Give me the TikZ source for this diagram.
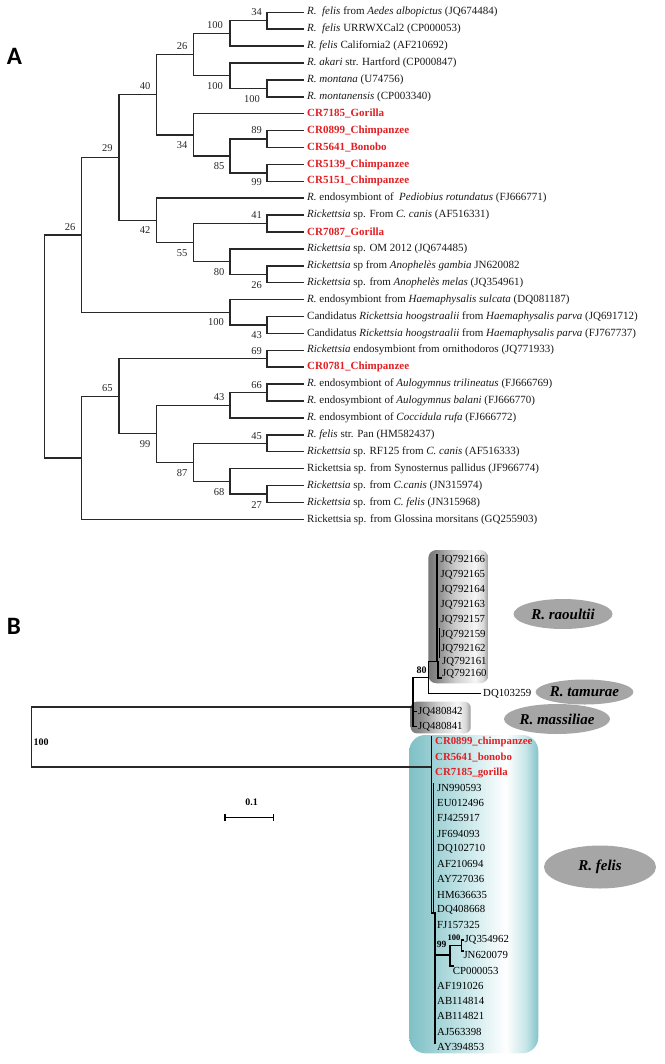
\documentclass[tikz,border=0pt]{standalone}
\usepackage{fontspec}
\setmainfont{Liberation Serif}
\newfontfamily\panelfont{Carlito}
\usetikzlibrary{shapes.geometric}
\definecolor{crred}{RGB}{224,32,36}
\definecolor{treec}{RGB}{40,40,40}
\definecolor{gL}{RGB}{120,120,120}
\definecolor{gL2}{RGB}{138,138,138}
\definecolor{gM}{RGB}{205,205,205}
\definecolor{gW}{RGB}{246,246,246}
\definecolor{gW2}{RGB}{215,215,215}
\definecolor{gR}{RGB}{150,150,150}
\definecolor{cL}{RGB}{128,193,198}
\definecolor{cL2}{RGB}{142,200,205}
\definecolor{cM}{RGB}{202,232,234}
\definecolor{cW}{RGB}{255,255,255}
\definecolor{cW2}{RGB}{200,230,232}
\definecolor{cR}{RGB}{132,195,200}
\definecolor{ellg}{RGB}{166,166,166}
\pgfdeclarehorizontalshading{grayshade}{100bp}{color(0bp)=(gL); color(25bp)=(gL); color(32.5bp)=(gL2); color(47.5bp)=(gM); color(64bp)=(gW); color(71bp)=(gW2); color(75bp)=(gR); color(100bp)=(gR)}
\pgfdeclarehorizontalshading{cyanshade}{100bp}{color(0bp)=(cL); color(25bp)=(cL); color(30bp)=(cL2); color(47.5bp)=(cM); color(62.5bp)=(cW); color(70bp)=(cW2); color(75bp)=(cR); color(100bp)=(cR)}
\newcommand\leafedge[2]{\draw[tree] (#1) |- ([xshift=-3.5pt]#2.west);}
\newcommand\inedge[2]{\draw[tree] (#1) |- (#2);}
\begin{document}
\begin{tikzpicture}[x=1pt,y=-1pt,
  tree/.style={draw=treec, line width=1.45pt, line cap=rect},
  treeb/.style={draw=black, line width=1.3pt, line cap=rect},
  leaf/.style={anchor=west, inner sep=0pt, text=black!90, font=\fontsize{11}{13}\selectfont},
  crleaf/.style={leaf, text=crred, font=\bfseries\fontsize{11}{13}\selectfont},
  bleaf/.style={anchor=west, inner sep=0pt, text=black, font=\fontsize{10.8}{13}\selectfont},
  bcr/.style={bleaf, text=crred, font=\bfseries\fontsize{10.8}{13}\selectfont},
  bsA/.style={inner sep=0pt, text=black!85, font=\fontsize{10.5}{12}\selectfont},
  bsB/.style={inner sep=0pt, text=black, font=\bfseries\fontsize{10}{12}\selectfont},
  panel/.style={inner sep=0pt, font=\panelfont\bfseries\fontsize{25}{28}\selectfont},
  spec/.style={ellipse, fill=ellg, inner sep=0pt, font=\bfseries\itshape\fontsize{15}{17}\selectfont}]
\useasboundingbox (0,0) rectangle (664,1064);

% ---------------- Panel A ----------------
\node[panel] (pA) at (14.5,56.5) {A};

\node[leaf] (lA1) at (307,12.3) {\textit{R.}\ \ \textit{felis} from \textit{Aedes albopictus} (JQ674484)};
\node[leaf] (lA2) at (307,29.2) {\textit{R.}\ \ \textit{felis} URRWXCal2 (CP000053)};
\node[leaf] (lA3) at (307,46.1) {\textit{R. felis} California2 (AF210692)};
\node[leaf] (lA4) at (307,63.0) {\textit{R. akari} str. Hartford (CP000847)};
\node[leaf] (lA5) at (307,79.9) {\textit{R. montana} (U74756)};
\node[leaf] (lA6) at (307,96.8) {\textit{R. montanensis} (CP003340)};
\node[crleaf] (lA7) at (307,113.7) {CR7185\_Gorilla};
\node[crleaf] (lA8) at (307,130.6) {CR0899\_Chimpanzee};
\node[crleaf] (lA9) at (307,147.5) {CR5641\_Bonobo};
\node[crleaf] (lA10) at (307,164.4) {CR5139\_Chimpanzee};
\node[crleaf] (lA11) at (307,181.3) {CR5151\_Chimpanzee};
\node[leaf] (lA12) at (307,198.2) {\textit{R.} endosymbiont of \ \textit{Pediobius rotundatus} (FJ666771)};
\node[leaf] (lA13) at (307,215.1) {\textit{Rickettsia} sp. From \textit{C. canis} (AF516331)};
\node[crleaf] (lA14) at (307,232.0) {CR7087\_Gorilla};
\node[leaf] (lA15) at (307,248.9) {\textit{Rickettsia} sp. OM 2012 (JQ674485)};
\node[leaf] (lA16) at (307,265.8) {\textit{Rickettsia} sp from \textit{Anophelès gambia} JN620082};
\node[leaf] (lA17) at (307,282.7) {\textit{Rickettsia} sp. from \textit{Anophelès melas} (JQ354961)};
\node[leaf] (lA18) at (307,299.6) {\textit{R.} endosymbiont from \textit{Haemaphysalis sulcata} (DQ081187)};
\node[leaf] (lA19) at (307,316.5) {Candidatus \textit{Rickettsia hoogstraalii} from \textit{Haemaphysalis parva} (JQ691712)};
\node[leaf] (lA20) at (307,333.4) {Candidatus \textit{Rickettsia hoogstraalii} from \textit{Haemaphysalis parva} (FJ767737)};
\node[leaf] (lA21) at (307,350.3) {\textit{Rickettsia} endosymbiont from ornithodoros (JQ771933)};
\node[crleaf] (lA22) at (307,367.2) {CR0781\_Chimpanzee};
\node[leaf] (lA23) at (307,384.1) {\textit{R.} endosymbiont of \textit{Aulogymnus trilineatus} (FJ666769)};
\node[leaf] (lA24) at (307,401.0) {\textit{R.} endosymbiont of \textit{Aulogymnus balani} (FJ666770)};
\node[leaf] (lA25) at (307,417.9) {\textit{R.} endosymbiont of \textit{Coccidula rufa} (FJ666772)};
\node[leaf] (lA26) at (307,434.8) {\textit{R. felis} str. Pan (HM582437)};
\node[leaf] (lA27) at (307,451.7) {\textit{Rickettsia} sp. RF125 from \textit{C. canis} (AF516333)};
\node[leaf] (lA28) at (307,468.6) {Rickettsia sp. from Synosternus pallidus (JF966774)};
\node[leaf] (lA29) at (307,485.5) {\textit{Rickettsia} sp. from \textit{C.canis} (JN315974)};
\node[leaf] (lA30) at (307,502.4) {\textit{Rickettsia} sp. from \textit{C. felis} (JN315968)};
\node[leaf] (lA31) at (307,519.3) {Rickettsia sp. from Glossina morsitans (GQ255903)};

% internal nodes
\coordinate (na) at (267,20.75);
\coordinate (nb) at (230,33.43);
\coordinate (nc) at (267,88.35);
\coordinate (nd) at (230,75.68);
\coordinate (ne) at (193.3,54.55);
\coordinate (nf) at (267,139.05);
\coordinate (ng) at (267,172.85);
\coordinate (nh) at (230,155.95);
\coordinate (ni) at (193.3,134.83);
\coordinate (nj) at (156.3,94.69);
\coordinate (nm) at (267,223.55);
\coordinate (nk) at (267,274.25);
\coordinate (nl) at (230,261.58);
\coordinate (nn) at (193.3,242.56);
\coordinate (no) at (156.3,220.38);
\coordinate (np) at (119,157.54);
\coordinate (nq) at (267,324.95);
\coordinate (nr) at (230,312.28);
\coordinate (ns) at (81.7,234.91);
\coordinate (nt) at (267,358.75);
\coordinate (nu) at (267,392.55);
\coordinate (nv) at (230,405.23);
\coordinate (nw) at (267,443.25);
\coordinate (nx) at (267,493.95);
\coordinate (ny) at (230,481.28);
\coordinate (nz) at (193.3,462.26);
\coordinate (naa) at (156.3,433.75);
\coordinate (nbb) at (119,396.25);
\coordinate (ncc) at (81.7,457.78);
\coordinate (nroot) at (44.3,346.34);

\leafedge{na}{lA1} \leafedge{na}{lA2} \inedge{nb}{na} \leafedge{nb}{lA3}
\leafedge{nc}{lA5} \leafedge{nc}{lA6} \leafedge{nd}{lA4} \inedge{nd}{nc}
\inedge{ne}{nb} \inedge{ne}{nd}
\leafedge{nf}{lA8} \leafedge{nf}{lA9} \leafedge{ng}{lA10} \leafedge{ng}{lA11}
\inedge{nh}{nf} \inedge{nh}{ng} \leafedge{ni}{lA7} \inedge{ni}{nh}
\inedge{nj}{ne} \inedge{nj}{ni}
\leafedge{nm}{lA13} \leafedge{nm}{lA14} \leafedge{nk}{lA16} \leafedge{nk}{lA17}
\leafedge{nl}{lA15} \inedge{nl}{nk} \inedge{nn}{nm} \inedge{nn}{nl}
\leafedge{no}{lA12} \inedge{no}{nn}
\inedge{np}{nj} \inedge{np}{no}
\leafedge{nq}{lA19} \leafedge{nq}{lA20} \leafedge{nr}{lA18} \inedge{nr}{nq}
\inedge{ns}{np} \inedge{ns}{nr}
\leafedge{nt}{lA21} \leafedge{nt}{lA22}
\leafedge{nu}{lA23} \leafedge{nu}{lA24} \inedge{nv}{nu} \leafedge{nv}{lA25}
\leafedge{nw}{lA26} \leafedge{nw}{lA27}
\leafedge{nx}{lA29} \leafedge{nx}{lA30} \leafedge{ny}{lA28} \inedge{ny}{nx}
\inedge{nz}{nw} \inedge{nz}{ny}
\inedge{naa}{nv} \inedge{naa}{nz}
\inedge{nbb}{nt} \inedge{nbb}{naa}
\inedge{ncc}{nbb} \leafedge{ncc}{lA31}
\inedge{nroot}{ns} \inedge{nroot}{ncc}

% bootstrap values A
\node[bsA] (ba) at (256.7,11.7) {34};
\node[bsA] (bb) at (215,25) {100};
\node[bsA] (bc) at (252,99) {100};
\node[bsA] (bd) at (215,86) {100};
\node[bsA] (be) at (182,45.7) {26};
\node[bsA] (bj) at (145,86) {40};
\node[bsA] (bf) at (256.7,130) {89};
\node[bsA] (bh) at (219,165.7) {85};
\node[bsA] (bg) at (256.7,182.3) {99};
\node[bsA] (bi) at (182,145) {34};
\node[bsA] (bp) at (107.3,148.3) {29};
\node[bsA] (bm) at (256.7,215) {41};
\node[bsA] (bo) at (145,230) {42};
\node[bsA] (bn) at (182,253.3) {55};
\node[bsA] (bl) at (219,271.7) {80};
\node[bsA] (bk) at (256.7,285) {26};
\node[bsA] (bs) at (70,226.7) {26};
\node[bsA] (br) at (216,322.3) {100};
\node[bsA] (bq) at (256.7,335) {43};
\node[bsA] (bt) at (256.7,351) {69};
\node[bsA] (bbb) at (107.3,388.3) {65};
\node[bsA] (bu) at (256.7,385) {66};
\node[bsA] (bv) at (219,397.3) {43};
\node[bsA] (baa) at (145,444.5) {99};
\node[bsA] (bw) at (256.7,435.7) {45};
\node[bsA] (bz) at (182,473.3) {87};
\node[bsA] (by) at (219,492.3) {68};
\node[bsA] (bx) at (256.7,505) {27};

% ---------------- Panel B ----------------
\node[panel] (pB) at (14,626.5) {B};

% clade boxes
\shade[shading=grayshade, rounded corners=8pt] (428.3,550) rectangle (488.3,683.3);
\shade[shading=grayshade, rounded corners=6pt] (410.7,701.7) rectangle (470.7,733.3);
\shade[shading=cyanshade, rounded corners=16pt] (409.3,735) rectangle (538.3,1053.3);

% species ellipses
\node[spec, minimum width=99pt, minimum height=30pt] (eRa) at (563,614) {R. raoultii};
\node[spec, minimum width=92pt, minimum height=25pt] (eTa) at (584.5,692) {R. tamurae};
\node[spec, minimum width=99pt, minimum height=30pt] (eMa) at (557,719) {R. massiliae};
\node[spec, minimum width=112pt, minimum height=43pt] (eFe) at (600,867) {R. felis};

% tree B
\coordinate (rb) at (31.7,737);
\coordinate (P) at (413,707);
\coordinate (fe) at (431.5,767);
\coordinate (n80) at (428.3,677.5);
\coordinate (ra) at (437,661.7);
\coordinate (ratop) at (437,555);
\inedge{rb}{P}
\inedge{rb}{fe}

\node[bleaf] (q66) at (440.5,560) {JQ792166};
\node[bleaf] (q65) at (440.5,575) {JQ792165};
\node[bleaf] (q64) at (440.5,590) {JQ792164};
\node[bleaf] (q63) at (440.5,605) {JQ792163};
\node[bleaf] (q57) at (440.5,620) {JQ792157};
\node[bleaf] (q59) at (441,635) {JQ792159};
\node[bleaf] (q62) at (441,649) {JQ792162};
\node[bleaf] (q61) at (442,662) {JQ792161};
\node[bleaf] (q60) at (442,674) {JQ792160};
\node[bleaf] (dq) at (483,693.3) {DQ103259};
\node[bleaf] (j42) at (418,711.7) {JQ480842};
\node[bleaf] (j41) at (418,726.7) {JQ480841};

\draw[treeb] (P) |- (n80);
\draw[treeb] (P) |- ([xshift=-2pt]j42.west);
\draw[treeb] (P) |- ([xshift=-2pt]j41.west);
\draw[treeb] (n80) |- (ra);
\draw[treeb] (n80) |- ([xshift=-3pt]dq.west);
\draw[treeb] (ra) -- (ratop);
\coordinate (rs1) at (439.3,629);
\coordinate (rs2) at (439.3,657);
\draw[treeb] (rs1) -- (rs2);
\coordinate (rh1) at (438,662);
\coordinate (rh2) at (438,678);
\draw[treeb] (rh1) -- (rh2) -| ([xshift=-0.5pt]q60.south west);
\node[bsB] (b80) at (421.7,670) {80};

% felis clade
\node[bcr] (f0) at (435,742.3) {CR0899\_chimpanzee};
\node[bcr] (f1) at (435,757.5) {CR5641\_bonobo};
\node[bcr] (f2) at (435,772.7) {CR7185\_gorilla};
\node[bleaf] (f3) at (437,788.0) {JN990593};
\node[bleaf] (f4) at (437,803.2) {EU012496};
\node[bleaf] (f5) at (437,818.4) {FJ425917};
\node[bleaf] (f6) at (437,833.6) {JF694093};
\node[bleaf] (f7) at (437,848.8) {DQ102710};
\node[bleaf] (f8) at (437,864.1) {AF210694};
\node[bleaf] (f9) at (437,879.3) {AY727036};
\node[bleaf] (f10) at (437,894.5) {HM636635};
\node[bleaf] (f11) at (437,909.7) {DQ408668};
\node[bleaf] (f12) at (437,924.9) {FJ157325};
\node[bleaf] (f13) at (464.3,940.2) {JQ354962};
\node[bleaf] (f14) at (463.3,955.4) {JN620079};
\node[bleaf] (f15) at (452.7,970.6) {CP000053};
\node[bleaf] (f16) at (437,985.8) {AF191026};
\node[bleaf] (f17) at (437,1001.0) {AB114814};
\node[bleaf] (f18) at (437,1016.3) {AB114821};
\node[bleaf] (f19) at (437,1031.5) {AJ563398};
\node[bleaf] (f20) at (437,1046.7) {AY394853};

\coordinate (fetop) at (431.5,737);
\coordinate (febot) at (431.5,913);
\coordinate (fe2top) at (433.8,783);
\coordinate (fe2bot) at (433.8,913);
\coordinate (fe3top) at (435,913);
\coordinate (fe3bot) at (435,1043);
\draw[treeb] (fetop) -- (febot) -- (fe3top) -- (fe3bot);
\draw[treeb, line width=0.9pt] (fe2top) -- (fe2bot);
\coordinate (n99in) at (435,955);
\coordinate (n99) at (450,955);
\coordinate (n100) at (461.7,945.5);
\coordinate (cpe) at (453,966);
\coordinate (j1e) at (463,940);
\coordinate (j2e) at (463,951);
\draw[treeb] (n99in) -- (n99);
\draw[treeb] (n99) |- (n100);
\draw[treeb] (n99) |- (cpe);
\draw[treeb] (n100) |- (j1e);
\draw[treeb] (n100) |- (j2e);
\node[bsB, font=\bfseries\fontsize{9.5}{11}\selectfont] (b99) at (441.7,944) {99};
\node[bsB, font=\bfseries\fontsize{8.5}{10}\selectfont] (b100) at (454,937.3) {100};

\node[bsB, anchor=west] (b100r) at (33.5,742) {100};

% scale bar
\coordinate (sb1) at (225,817.7);
\coordinate (sb2) at (273.3,817.7);
\draw[treeb, line width=1.2pt] (sb1) -- (sb2);
\draw[treeb, line width=1.2pt] ([yshift=3pt]sb1) -- ([yshift=-3pt]sb1);
\draw[treeb, line width=1.2pt] ([yshift=3pt]sb2) -- ([yshift=-3pt]sb2);
\node[bsB] (sbl) at (251.7,802.7) {0.1};
\end{tikzpicture}
\end{document}
